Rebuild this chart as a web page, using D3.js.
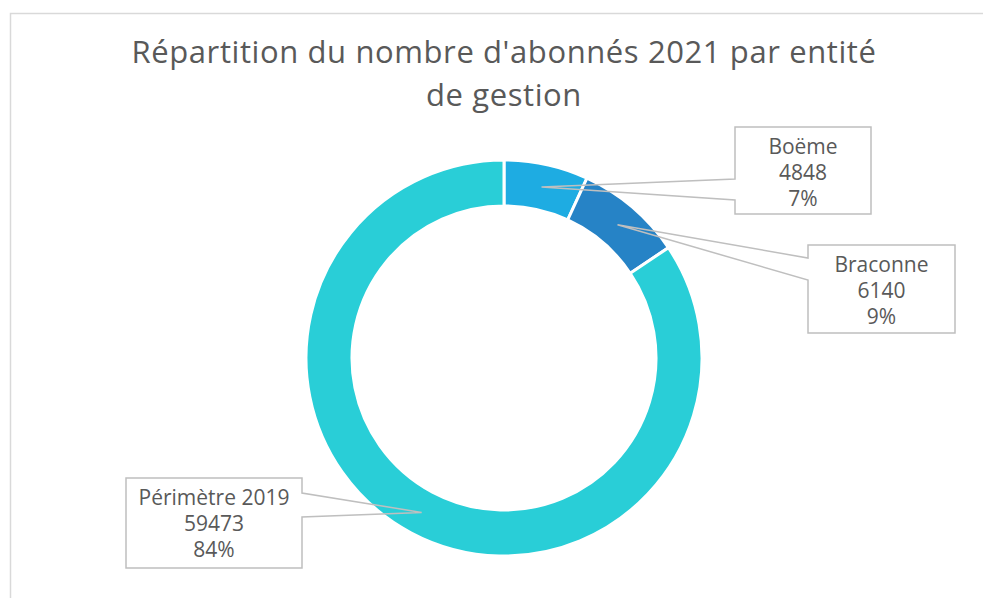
<!DOCTYPE html>
<html>
<head>
<meta charset="utf-8">
<script src="https://cdn.jsdelivr.net/npm/d3@7"></script>
<style>
  body { margin: 0; background: #fff; }
  text { font-family: "Open Sans", "Noto Sans", sans-serif; fill: #595959; }
</style>
</head>
<body>
<div id="chart"></div>
<script>
// data
const categories = ["Boëme", "Braconne", "Périmètre 2019"]
const values = [4848, 6140, 59473]
const percentLabels = ["7%", "9%", "84%"]
const colors = ["#1EACE2", "#2683C6", "#29CED7"]
const titleLines = ["Répartition du nombre d'abonnés 2021 par entité", "de gestion"]

// label box layout (left, top, width, height, side where the pointer leaves)
const boxes = [
  {x: 735, y: 127, w: 136, h: 87, side: "left", a1: 179, a2: 200},
  {x: 808, y: 245, w: 147, h: 88, side: "left", a1: 258, a2: 280},
  {x: 126, y: 478, w: 176, h: 90, side: "right", a1: 493, a2: 517}
]

const width = 983
const height = 598
const cx = 504, cy = 358
const outerR = 198, innerR = 152

const svg = d3.select("#chart")
  .append("svg")
  .attr("width", width)
  .attr("height", height)

// chart border
svg.append("rect")
  .attr("x", 10.5)
  .attr("y", 13.5)
  .attr("width", width + 20)
  .attr("height", height + 20)
  .attr("fill", "none")
  .attr("stroke", "#D9D9D9")
  .attr("stroke-width", 1.5)

// title, one text per line
svg.selectAll(".title")
  .data(titleLines)
  .join("text")
  .attr("class", "title")
  .attr("x", cx)
  .attr("y", (d, i) => 63 + i * 42.5)
  .attr("text-anchor", "middle")
  .attr("font-size", 31)
  .attr("letter-spacing", 0.6)
  .text(d => d)

const pie = d3.pie().sort(null).value(d => d)
const arcs = pie(values)

const arc = d3.arc().innerRadius(innerR).outerRadius(outerR)
const mid = d3.arc().innerRadius(175).outerRadius(175)

const g = svg.append("g").attr("transform", `translate(${cx}, ${cy})`)

g.selectAll("path")
  .data(arcs)
  .join("path")
  .attr("d", arc)
  .attr("fill", (d, i) => colors[i])
  .attr("stroke", "#fff")
  .attr("stroke-width", 3)

// callout labels
arcs.forEach((d, i) => {
  const b = boxes[i]
  const [tx, ty] = mid.centroid(d)
  const tipX = cx + tx, tipY = cy + ty
  const x0 = b.x, x1 = b.x + b.w, y0 = b.y, y1 = b.y + b.h
  let p
  if (b.side === "left") {
    p = `M${x0},${b.a1} L${x0},${y0} L${x1},${y0} L${x1},${y1} L${x0},${y1} L${x0},${b.a2} L${tipX},${tipY} Z`
  } else {
    p = `M${x1},${b.a2} L${x1},${y1} L${x0},${y1} L${x0},${y0} L${x1},${y0} L${x1},${b.a1} L${tipX},${tipY} Z`
  }
  svg.append("path")
    .attr("d", p)
    .attr("fill", "none")
    .attr("stroke", "#BFBFBF")
    .attr("stroke-width", 1.5)
    .attr("stroke-linejoin", "miter")

  const lines = [categories[i], String(values[i]), percentLabels[i]]
  svg.append("text")
    .attr("text-anchor", "middle")
    .attr("font-size", 21)
    .selectAll("tspan")
    .data(lines)
    .join("tspan")
    .attr("x", b.x + b.w / 2)
    .attr("y", (t, j) => b.y + 27 + j * 26)
    .text(t => t)
})
</script>
</body>
</html>
